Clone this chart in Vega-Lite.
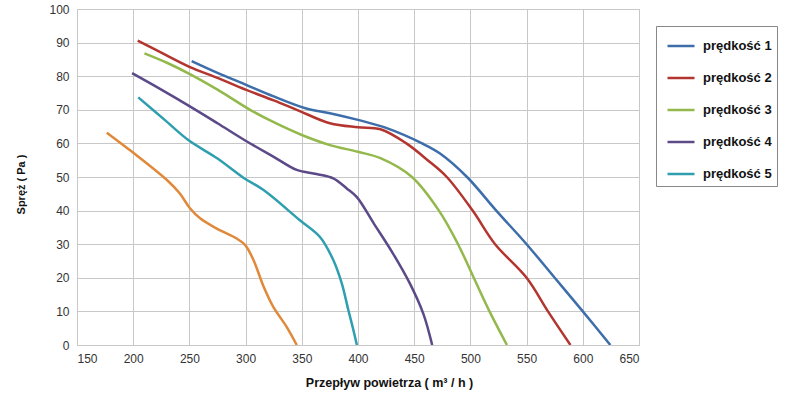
{
  "$schema": "https://vega.github.io/schema/vega-lite/v6.json",
  "width": 562,
  "height": 336,
  "autosize": {"type": "none"},
  "padding": {"left": 77, "top": 9, "right": 161, "bottom": 53},
  "background": "white",
  "config": {
    "view": {"stroke": "#c8c8c8", "strokeWidth": 1},
    "font": "Liberation Sans"
  },
  "data": {
    "values": [
      {"s": "prędkość 1", "x": 252, "y": 84.5}, {"s": "prędkość 1", "x": 275, "y": 81}, {"s": "prędkość 1", "x": 300, "y": 77.5}, {"s": "prędkość 1", "x": 325, "y": 74}, {"s": "prędkość 1", "x": 354, "y": 70.4}, {"s": "prędkość 1", "x": 375, "y": 69}, {"s": "prędkość 1", "x": 400, "y": 67}, {"s": "prędkość 1", "x": 425, "y": 64.6}, {"s": "prędkość 1", "x": 457, "y": 60}, {"s": "prędkość 1", "x": 473, "y": 57}, {"s": "prędkość 1", "x": 497, "y": 50}, {"s": "prędkość 1", "x": 523, "y": 40}, {"s": "prędkość 1", "x": 550, "y": 30}, {"s": "prędkość 1", "x": 575, "y": 20}, {"s": "prędkość 1", "x": 600, "y": 10}, {"s": "prędkość 1", "x": 624.5, "y": 0},
      {"s": "prędkość 2", "x": 204, "y": 90.6}, {"s": "prędkość 2", "x": 225, "y": 87}, {"s": "prędkość 2", "x": 250, "y": 82.8}, {"s": "prędkość 2", "x": 275, "y": 79.5}, {"s": "prędkość 2", "x": 300, "y": 76}, {"s": "prędkość 2", "x": 325, "y": 72.8}, {"s": "prędkość 2", "x": 345.5, "y": 70}, {"s": "prędkość 2", "x": 375, "y": 66}, {"s": "prędkość 2", "x": 400, "y": 64.8}, {"s": "prędkość 2", "x": 420, "y": 64.2}, {"s": "prędkość 2", "x": 443, "y": 60}, {"s": "prędkość 2", "x": 462, "y": 55}, {"s": "prędkość 2", "x": 479, "y": 50}, {"s": "prędkość 2", "x": 502, "y": 40}, {"s": "prędkość 2", "x": 522, "y": 30}, {"s": "prędkość 2", "x": 550, "y": 20}, {"s": "prędkość 2", "x": 569, "y": 10}, {"s": "prędkość 2", "x": 589, "y": 0},
      {"s": "prędkość 3", "x": 210, "y": 86.8}, {"s": "prędkość 3", "x": 230, "y": 84}, {"s": "prędkość 3", "x": 250, "y": 80.7}, {"s": "prędkość 3", "x": 275, "y": 76}, {"s": "prędkość 3", "x": 304, "y": 70}, {"s": "prędkość 3", "x": 325, "y": 66.3}, {"s": "prędkość 3", "x": 350, "y": 62.5}, {"s": "prędkość 3", "x": 375, "y": 59.5}, {"s": "prędkość 3", "x": 400, "y": 57.5}, {"s": "prędkość 3", "x": 420, "y": 55.6}, {"s": "prędkość 3", "x": 448, "y": 50}, {"s": "prędkość 3", "x": 472, "y": 40}, {"s": "prędkość 3", "x": 489, "y": 30}, {"s": "prędkość 3", "x": 503, "y": 20}, {"s": "prędkość 3", "x": 517, "y": 10}, {"s": "prędkość 3", "x": 532.5, "y": 0},
      {"s": "prędkość 4", "x": 199, "y": 80.9}, {"s": "prędkość 4", "x": 225, "y": 76}, {"s": "prędkość 4", "x": 250, "y": 71.1}, {"s": "prędkość 4", "x": 275, "y": 66}, {"s": "prędkość 4", "x": 300, "y": 60.8}, {"s": "prędkość 4", "x": 325, "y": 56}, {"s": "prędkość 4", "x": 345.5, "y": 52.1}, {"s": "prędkość 4", "x": 363, "y": 50.9}, {"s": "prędkość 4", "x": 378, "y": 49.6}, {"s": "prędkość 4", "x": 390, "y": 46.6}, {"s": "prędkość 4", "x": 399, "y": 44}, {"s": "prędkość 4", "x": 414, "y": 36.2}, {"s": "prędkość 4", "x": 431, "y": 27.3}, {"s": "prędkość 4", "x": 446, "y": 18.4}, {"s": "prędkość 4", "x": 458, "y": 9.4}, {"s": "prędkość 4", "x": 466, "y": 0},
      {"s": "prędkość 5", "x": 204.5, "y": 73.7}, {"s": "prędkość 5", "x": 228, "y": 67}, {"s": "prędkość 5", "x": 249, "y": 61}, {"s": "prędkość 5", "x": 275, "y": 55.5}, {"s": "prędkość 5", "x": 298, "y": 49.8}, {"s": "prędkość 5", "x": 316, "y": 46.1}, {"s": "prędkość 5", "x": 348, "y": 37.2}, {"s": "prędkość 5", "x": 366, "y": 32.2}, {"s": "prędkość 5", "x": 378, "y": 25.3}, {"s": "prędkość 5", "x": 385.5, "y": 18.4}, {"s": "prędkość 5", "x": 391.4, "y": 10.4}, {"s": "prędkość 5", "x": 395.5, "y": 5}, {"s": "prędkość 5", "x": 399, "y": 0},
      {"s": "prędkość 6", "x": 176.5, "y": 63.2}, {"s": "prędkość 6", "x": 199, "y": 57.5}, {"s": "prędkość 6", "x": 230, "y": 49.1}, {"s": "prędkość 6", "x": 241.5, "y": 45.1}, {"s": "prędkość 6", "x": 250.5, "y": 40.7}, {"s": "prędkość 6", "x": 259.5, "y": 37.7}, {"s": "prędkość 6", "x": 274, "y": 34.7}, {"s": "prędkość 6", "x": 292, "y": 31.7}, {"s": "prędkość 6", "x": 299.5, "y": 29.8}, {"s": "prędkość 6", "x": 307, "y": 25.3}, {"s": "prędkość 6", "x": 316, "y": 17.4}, {"s": "prędkość 6", "x": 324.5, "y": 11.4}, {"s": "prędkość 6", "x": 336.5, "y": 5.4}, {"s": "prędkość 6", "x": 345.5, "y": 0}
    ]
  },
  "mark": {"type": "line", "interpolate": "catmull-rom", "strokeWidth": 2.5, "clip": true},
  "encoding": {
    "x": {
      "field": "x", "type": "quantitative",
      "scale": {"domain": [150, 650], "nice": false, "zero": false},
      "axis": {
        "values": [150, 200, 250, 300, 350, 400, 450, 500, 550, 600, 650],
        "title": "Przepływ powietrza  ( m³ / h )",
        "titleFont": "Liberation Sans", "titleFontSize": 12.5, "titleFontWeight": "bold", "titleColor": "#111",
        "titlePadding": 12,
        "titleX": 312,
        "labelFont": "Liberation Sans", "labelFontSize": 12, "labelColor": "#333", "labelPadding": 8,
        "ticks": false, "domain": false,
        "grid": true, "gridColor": "#c8c8c8", "gridWidth": 1
      }
    },
    "y": {
      "field": "y", "type": "quantitative",
      "scale": {"domain": [0, 100], "nice": false},
      "axis": {
        "values": [0, 10, 20, 30, 40, 50, 60, 70, 80, 90, 100],
        "title": "Spręż  ( Pa )",
        "titleFont": "Liberation Sans", "titleFontSize": 11, "titleFontWeight": "bold", "titleColor": "#111",
        "titlePadding": 22,
        "titleY": 175,
        "labelFont": "Liberation Sans", "labelFontSize": 12, "labelColor": "#333", "labelPadding": 8,
        "ticks": false, "domain": false,
        "grid": true, "gridColor": "#c8c8c8", "gridWidth": 1
      }
    },
    "color": {
      "field": "s", "type": "nominal",
      "scale": {
        "domain": ["prędkość 1", "prędkość 2", "prędkość 3", "prędkość 4", "prędkość 5", "prędkość 6"],
        "range": ["#3d6eaa", "#b3352f", "#93b84b", "#5c4a88", "#2f9fb0", "#e0893a"]
      },
      "legend": {
        "values": ["prędkość 1", "prędkość 2", "prędkość 3", "prędkość 4", "prędkość 5"],
        "title": null,
        "orient": "none",
        "legendX": 579,
        "legendY": 17,
        "symbolType": "stroke",
        "symbolSize": 729,
        "symbolStrokeWidth": 2.5,
        "symbolOffset": 5,
        "labelFont": "Liberation Sans",
        "labelFontSize": 13,
        "labelFontWeight": "bold",
        "labelColor": "#111",
        "labelOffset": 7,
        "rowPadding": 10,
        "padding": 5,
        "strokeColor": "#888",
        "fillColor": "white"
      }
    }
  }
}
